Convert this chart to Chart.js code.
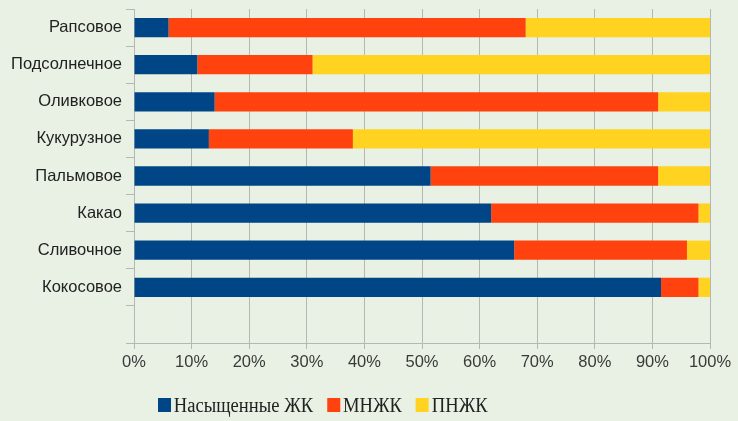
<!DOCTYPE html>
<html>
<head>
<meta charset="utf-8">
<script src="https://cdn.jsdelivr.net/npm/chart.js@4.4.0/dist/chart.umd.min.js"></script>
<style>
  html, body { margin: 0; padding: 0; background: #e8f1e3; }
  #wrap { position: relative; width: 738px; height: 421px; }
  #legend {
    position: absolute; left: 158px; top: 393px; height: 24px;
    display: flex; align-items: center;
    font-family: 'Liberation Serif', 'Times New Roman', serif;
    font-size: 20px; color: #222222; white-space: nowrap;
    transform: scaleX(0.93); transform-origin: left center;
  }
  #legend .item { display: flex; align-items: center; margin-right: 15px; }
  #legend .box { width: 14px; height: 14px; margin-right: 3px; }
</style>
</head>
<body>
<div id="wrap">
  <canvas id="myChart"></canvas>
  <div id="legend"></div>
</div>
<script>
// categories, top to bottom (last slot is empty in the source)
var oils = ["Рапсовое", "Подсолнечное", "Оливковое", "Кукурузное", "Пальмовое", "Какао", "Сливочное", "Кокосовое", ""];
// shares, %
var satValues  = [6, 11, 14, 13, 51.5, 62, 66, 91.5, null];
var monoValues = [62, 20, 77, 25, 39.5, 36, 30, 6.5, null];
var polyValues = [32, 69, 9, 62, 9, 2, 4, 2, null];
var xTicks = [0, 10, 20, 30, 40, 50, 60, 70, 80, 90, 100];

var sans = "'Liberation Sans', Arial, sans-serif";

var chart = new Chart("myChart", {
  type: "bar",
  data: {
    labels: oils,
    datasets: [{
      label: "Насыщенные ЖК",
      backgroundColor: "#004586",
      data: satValues
    }, {
      label: "МНЖК",
      backgroundColor: "#ff420e",
      data: monoValues
    }, {
      label: "ПНЖК",
      backgroundColor: "#ffd320",
      data: polyValues
    }]
  },
  options: {
    indexAxis: "y",
    responsive: true,
    maintainAspectRatio: false,
    animation: false,
    layout: { padding: { left: 0, right: 28, top: 9, bottom: 31 } },
    datasets: { bar: { barPercentage: 0.52, categoryPercentage: 1 } },
    scales: {
      x: {
        stacked: true,
        min: 0,
        max: 100,
        afterBuildTicks: function (axis) {
          axis.ticks = xTicks.map(function (v) { return { value: v }; });
        },
        afterFit: function (axis) { axis.height = 47; },
        grid: { color: "#b5b8b2", lineWidth: 1, tickLength: 6 },
        border: { color: "#b5b8b2" },
        ticks: {
          color: "#3a3a3a",
          padding: 4,
          font: { family: sans, size: 16.5 },
          callback: function (v) { return v + "%"; }
        }
      },
      y: {
        stacked: true,
        afterFit: function (axis) {
          axis.width = 134;
          axis.paddingTop = 0;
          axis.paddingBottom = 0;
        },
        grid: { drawOnChartArea: false, color: "#b5b8b2", tickLength: 8 },
        border: { display: false },
        ticks: {
          color: "#222222",
          padding: 4,
          font: { family: sans, size: 16.5 }
        }
      }
    },
    plugins: {
      legend: { display: false },
      tooltip: { enabled: false }
    }
  }
});

// legend as text under the chart
var legendDiv = document.getElementById("legend");
chart.data.datasets.forEach(function (ds) {
  var item = document.createElement("div");
  item.className = "item";
  var box = document.createElement("span");
  box.className = "box";
  box.style.background = ds.backgroundColor;
  item.appendChild(box);
  item.appendChild(document.createTextNode(ds.label));
  legendDiv.appendChild(item);
});
</script>
</body>
</html>
